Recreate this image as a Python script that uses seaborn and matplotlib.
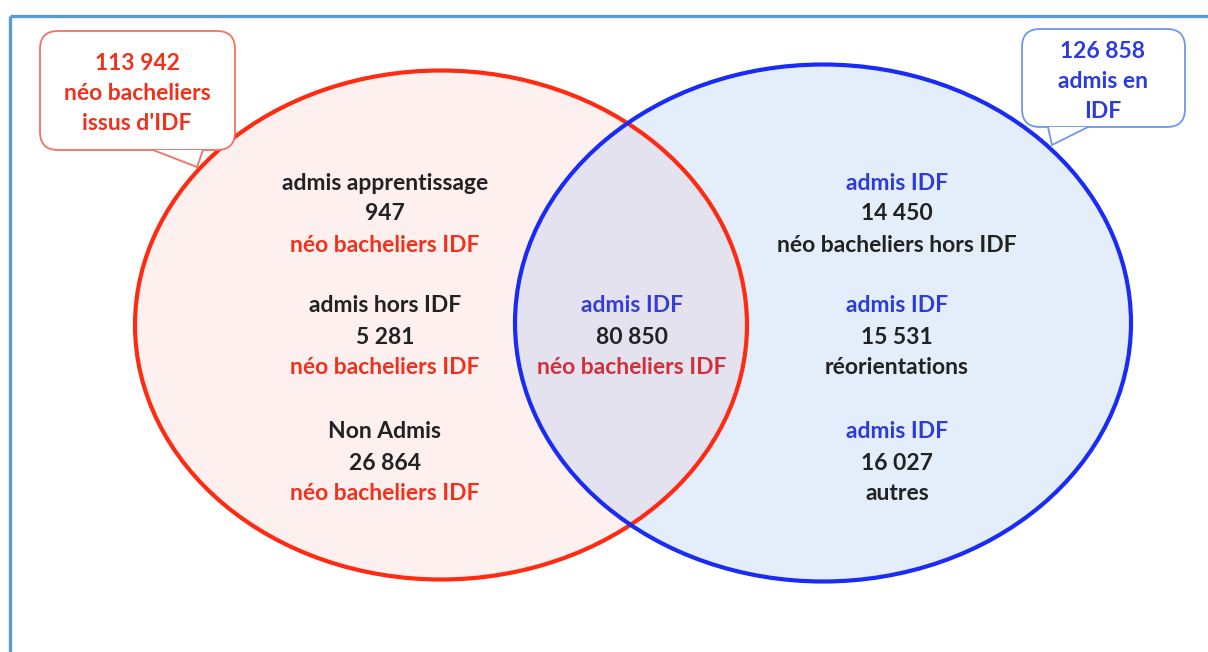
import numpy as np
import matplotlib
matplotlib.use("Agg")
import matplotlib.pyplot as plt
import seaborn as sns
from matplotlib.patches import Ellipse, FancyBboxPatch, Polygon

# data
left_titles = ["admis apprentissage", "admis hors IDF", "Non Admis"]
left_counts = [947, 5281, 26864]
left_sub = "néo bacheliers IDF"
centre_title = "admis IDF"
centre_count = 80850
centre_sub = "néo bacheliers IDF"
right_titles = ["admis IDF", "admis IDF", "admis IDF"]
right_counts = [14450, 15531, 16027]
right_subs = ["néo bacheliers hors IDF", "réorientations", "autres"]
total_red = 113942
total_red_label = ["néo bacheliers", "issus d'IDF"]
total_blue = 126858
total_blue_label = ["admis en", "IDF"]

def fmt(n):
    return f"{n:,}".replace(",", " ")

RED = "#FF2A12"
BLUE = "#1A2BF5"
TXT_RED = "#EE321E"
TXT_BLUE = "#2B3CDB"
TXT_DARK = "#222222"

sns.set_theme(style="white")
plt.rcParams['font.family'] = ['Lato', 'DejaVu Sans']

fig = plt.figure(figsize=(12.08, 6.52), dpi=100)
ax = fig.add_axes([0, 0, 1, 1])
ax.set_xlim(0, 1208)
ax.set_ylim(652, 0)
ax.axis("off")

# frame
ax.plot([10, 1208], [16, 16], color="#5B9BD5", lw=2.4, solid_capstyle="butt")
ax.plot([10, 10], [16, 652], color="#5B9BD5", lw=2.4, solid_capstyle="butt")

# circles
ax.add_patch(Ellipse((441, 325), 612, 509, facecolor="#FFF0F0", edgecolor="none"))
ax.add_patch(Ellipse((823, 323), 616, 517, facecolor=(0.47, 0.67, 0.92, 0.2), edgecolor="none"))
ax.add_patch(Ellipse((441, 325), 612, 509, facecolor="none", edgecolor=RED, lw=3))
ax.add_patch(Ellipse((823, 323), 616, 517, facecolor="none", edgecolor=BLUE, lw=3))

# callouts
def callout(x0, y0, x1, y1, tail, ec):
    ax.add_patch(FancyBboxPatch((x0, y0), x1 - x0, y1 - y0,
                                boxstyle="round,pad=0,rounding_size=18",
                                facecolor="white", edgecolor=ec, lw=1.3, zorder=3))
    ax.add_patch(Polygon(tail, closed=True, facecolor="white", edgecolor="none", zorder=4))
    ax.plot([tail[0][0], tail[1][0]], [tail[0][1], tail[1][1]], color=ec, lw=1.3, zorder=5)
    ax.plot([tail[1][0], tail[2][0]], [tail[1][1], tail[2][1]], color=ec, lw=1.3, zorder=5)

callout(40, 31, 235, 150, [(153, 150), (197, 167), (203, 150)], "#F5705F")
callout(1022, 29, 1185, 127, [(1048, 127), (1052, 145), (1088, 127)], "#6E96F0")

fs = 16.5
for t, y in zip([fmt(total_red)] + total_red_label, [64, 94, 123]):
    ax.text(137, y, t, color=TXT_RED, fontsize=fs, fontweight="bold", ha="center", va="center", zorder=6)
for t, y in zip([fmt(total_blue)] + total_blue_label, [52, 82, 111]):
    ax.text(1103, y, t, color=TXT_BLUE, fontsize=fs, fontweight="bold", ha="center", va="center", zorder=6)

rows = [183, 306, 432]
gap = 31
for k in range(3):
    y = rows[k]
    ax.text(385, y, left_titles[k], color=TXT_DARK, fontsize=fs, fontweight="bold", ha="center", va="center")
    ax.text(385, y + gap, fmt(left_counts[k]), color=TXT_DARK, fontsize=fs, fontweight="bold", ha="center", va="center")
    ax.text(385, y + 2 * gap, left_sub, color=TXT_RED, fontsize=fs, fontweight="bold", ha="center", va="center")
    ax.text(897, y, right_titles[k], color=TXT_BLUE, fontsize=fs, fontweight="bold", ha="center", va="center")
    ax.text(897, y + gap, fmt(right_counts[k]), color=TXT_DARK, fontsize=fs, fontweight="bold", ha="center", va="center")
    ax.text(897, y + 2 * gap, right_subs[k], color=TXT_DARK, fontsize=fs, fontweight="bold", ha="center", va="center")

ax.text(632, 306, centre_title, color="#3540D0", fontsize=fs, fontweight="bold", ha="center", va="center")
ax.text(632, 306 + gap, fmt(centre_count), color=TXT_DARK, fontsize=fs, fontweight="bold", ha="center", va="center")
ax.text(632, 306 + 2 * gap, centre_sub, color="#D0303A", fontsize=fs, fontweight="bold", ha="center", va="center")

fig.savefig("out.png", dpi=100)
